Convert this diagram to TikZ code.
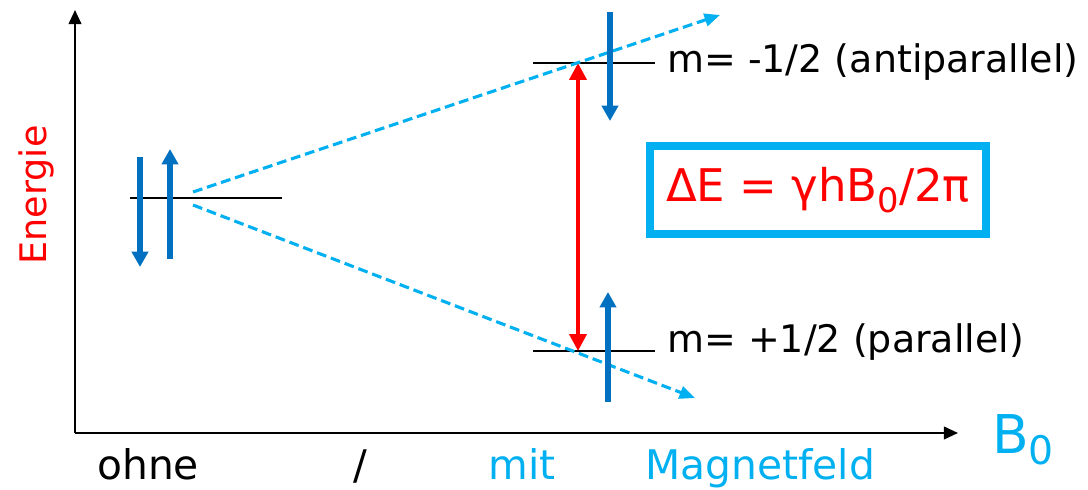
\documentclass[tikz,border=0pt]{standalone}
\usepackage{fontspec}
\setmainfont{DejaVu Sans}
\usetikzlibrary{arrows.meta}
\definecolor{hellblau}{RGB}{0,176,240}
\definecolor{spinblau}{RGB}{0,112,192}
\definecolor{rot}{RGB}{255,0,0}
\begin{document}
\begin{tikzpicture}[x=0.025cm,y=-0.025cm,
  level/.style={black,line width=1.4pt},
  spin/.style={spinblau,line width=3.6pt,-{Triangle[length=11pt,width=11.5pt]}},
  trend/.style={hellblau,line width=2.2pt,dash pattern=on 7pt off 3.5pt,-{Triangle[length=11pt,width=9pt]}},
  axis/.style={black,line width=1.4pt,-{Triangle[length=10pt,width=9pt]}},
  lbl/.style={inner sep=0pt,anchor=base west}]
\useasboundingbox (0,0) rectangle (1088,490);
% Achsen
\coordinate (O) at (75,433);
\coordinate (ytop) at (75,10);
\coordinate (xend) at (958,433);
\draw[axis] (O) -- (ytop);
\draw[axis] (O) -- (xend);
\node[text=rot,rotate=90,inner sep=0pt,font=\fontsize{26}{30}\selectfont] (energie) at (36,195) {Energie};
\node[lbl,text=hellblau,font=\fontsize{38}{40}\selectfont] (bnull) at (992,454) {B\raisebox{-0.35ex}{\fontsize{28}{28}\selectfont 0}};
% ohne Feld
\coordinate (l0a) at (130,198);
\coordinate (l0b) at (282,198);
\draw[level] (l0a) -- (l0b);
\coordinate (s1a) at (140,157); \coordinate (s1b) at (140,267);
\coordinate (s2a) at (170,259); \coordinate (s2b) at (170,149);
\draw[spin] (s1a) -- (s1b);
\draw[spin] (s2a) -- (s2b);
% mit Feld
\coordinate (hia) at (533,63);  \coordinate (hib) at (655,63);
\coordinate (loa) at (533,351); \coordinate (lob) at (655,351);
\draw[level] (hia) -- (hib);
\draw[level] (loa) -- (lob);
\coordinate (dhi) at (578,63);
\coordinate (dlo) at (578,351);
\draw[rot,line width=2.8pt,{Triangle[length=12pt,width=12pt]}-{Triangle[length=12pt,width=12pt]}] (dlo) -- (dhi);
% Aufspaltung
\coordinate (t0a) at (193,192); \coordinate (t1) at (720,15);
\coordinate (t0b) at (193,205); \coordinate (t2) at (695,398);
\draw[trend] (t0a) -- (t1);
\draw[trend] (t0b) -- (t2);
\coordinate (s3a) at (610,12);  \coordinate (s3b) at (610,121);
\coordinate (s4a) at (608,402); \coordinate (s4b) at (608,292);
\draw[spin] (s3a) -- (s3b);
\draw[spin] (s4a) -- (s4b);
\node[lbl,font=\fontsize{27}{30}\selectfont] (manti) at (667,73) {m= -1/2 (antiparallel)};
\node[lbl,font=\fontsize{27}{30}\selectfont] (mpara) at (667,353) {m= +1/2 (parallel)};
\node[draw=hellblau,line width=5.7pt,minimum width=8.375cm,minimum height=2.2cm,inner sep=0pt,text=rot,font=\fontsize{32}{36}\selectfont] (formel) at (818,190) {ΔE = γhB\raisebox{-0.45ex}{\fontsize{24}{24}\selectfont 0}/2π};
% Beschriftung unten
\node[lbl,font=\fontsize{29}{34}\selectfont] (ohne) at (97,480) {ohne};
\node[lbl,font=\fontsize{29}{34}\selectfont] (strich) at (353,480) {/};
\node[lbl,text=hellblau,font=\fontsize{29}{34}\selectfont] (mit) at (488,480) {mit};
\node[lbl,text=hellblau,font=\fontsize{29}{34}\selectfont] (feld) at (645,480) {Magnetfeld};
\end{tikzpicture}
\end{document}
